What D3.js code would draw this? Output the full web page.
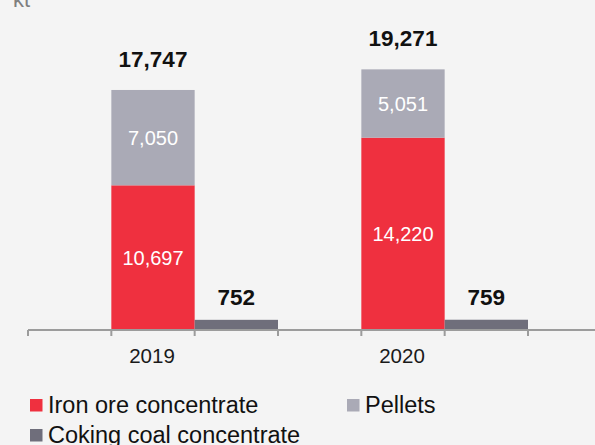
<!DOCTYPE html>
<html>
<head>
<meta charset="utf-8">
<script src="https://cdn.jsdelivr.net/npm/d3@7"></script>
<style>
html,body{margin:0;padding:0;background:#f4f4f4;}
svg{display:block;font-family:Arial,"Liberation Sans",sans-serif;}
</style>
</head>
<body>
<svg id="chart" width="595" height="445"></svg>
<script>
const years = ["2019", "2020"];
const ironOre = [10697, 14220];
const pellets = [7050, 5051];
const cokingCoal = [752, 759];
const totals = [17747, 19271];
const seriesNames = ["Iron ore concentrate", "Pellets", "Coking coal concentrate"];
const unitLabel = "kt";

const colors = {iron: "#ef303f", pellets: "#aaaab6", coal: "#6f6e7b"};

const svg = d3.select("#chart");
const baseY = 330;
const x = d3.scaleBand().domain(years).range([28, 528]).paddingInner(0).paddingOuter(0);
const slot = d3.scaleBand().domain(["gap", "stack", "coal"]).range([0, x.bandwidth()]);
const y = d3.scaleLinear().domain([0, 20000]).range([baseY, 59.5]);

// unit label
svg.append("text").attr("x", 13).attr("y", 7).attr("font-size", 22)
  .attr("fill", "#7f7f7f").text(unitLabel);

const data = years.map((yr, i) => ({yr, iron: ironOre[i], pel: pellets[i], coal: cokingCoal[i], total: totals[i]}));

const g = svg.append("g");
data.forEach(d => {
  const sx = x(d.yr) + slot("stack");
  const cx = x(d.yr) + slot("coal");
  const w = slot.bandwidth();
  // iron ore
  g.append("rect").attr("x", sx).attr("width", w)
    .attr("y", y(d.iron)).attr("height", baseY - y(d.iron)).attr("fill", colors.iron);
  // pellets
  g.append("rect").attr("x", sx).attr("width", w)
    .attr("y", y(d.iron + d.pel)).attr("height", y(d.iron) - y(d.iron + d.pel)).attr("fill", colors.pellets);
  // coal
  g.append("rect").attr("x", cx).attr("width", w)
    .attr("y", y(d.coal)).attr("height", baseY - y(d.coal)).attr("fill", colors.coal);

  // inner labels
  g.append("text").attr("x", sx + w / 2).attr("y", (y(d.iron) + baseY) / 2)
    .attr("dy", "0.35em").attr("text-anchor", "middle").attr("font-size", 20)
    .attr("fill", "#fff").text(d3.format(",")(d.iron));
  g.append("text").attr("x", sx + w / 2).attr("y", (y(d.iron) + y(d.iron + d.pel)) / 2)
    .attr("dy", "0.35em").attr("text-anchor", "middle").attr("font-size", 20)
    .attr("fill", "#fff").text(d3.format(",")(d.pel));
  // totals
  g.append("text").attr("x", sx + w / 2).attr("y", y(d.total) - 23)
    .attr("text-anchor", "middle").attr("font-size", 22.5).attr("font-weight", "bold")
    .attr("fill", "#111").text(d3.format(",")(d.total));
  g.append("text").attr("x", cx + w / 2).attr("y", y(d.coal) - 15)
    .attr("text-anchor", "middle").attr("font-size", 22.5).attr("font-weight", "bold")
    .attr("fill", "#111").text(d3.format(",")(d.coal));
});

// axis
const axisColor = "#9c9c9c";
svg.append("line").attr("x1", x.range()[0]).attr("x2", 595)
  .attr("y1", baseY).attr("y2", baseY).attr("stroke", axisColor).attr("stroke-width", 2);
const tickPos = [];
years.forEach(yr => slot.domain().forEach(s => tickPos.push(x(yr) + slot(s))));
tickPos.push(x.range()[1]);
tickPos.push(x.range()[1] + slot.bandwidth());
svg.selectAll("line.tick").data(tickPos).enter().append("line")
  .attr("class", "tick").attr("x1", d => d).attr("x2", d => d)
  .attr("y1", baseY).attr("y2", baseY + 6).attr("stroke", axisColor).attr("stroke-width", 2);
svg.selectAll("text.year").data(years).enter().append("text")
  .attr("class", "year").attr("x", d => x(d) + x.bandwidth() / 2 - 1).attr("y", 363)
  .attr("text-anchor", "middle").attr("font-size", 20.5).attr("fill", "#1a1a1a").text(d => d);

// legend
const legendItems = [
  {name: seriesNames[0], color: colors.iron, x: 30, y: 413},
  {name: seriesNames[1], color: colors.pellets, x: 347, y: 413},
  {name: seriesNames[2], color: colors.coal, x: 30, y: 443}
];
const lg = svg.append("g");
legendItems.forEach(it => {
  lg.append("rect").attr("x", it.x).attr("y", it.y - 14).attr("width", 12.5).attr("height", 12.5).attr("fill", it.color);
  lg.append("text").attr("x", it.x + 18).attr("y", it.y).attr("font-size", 23.5)
    .attr("fill", "#111").text(it.name);
});
</script>
</body>
</html>
